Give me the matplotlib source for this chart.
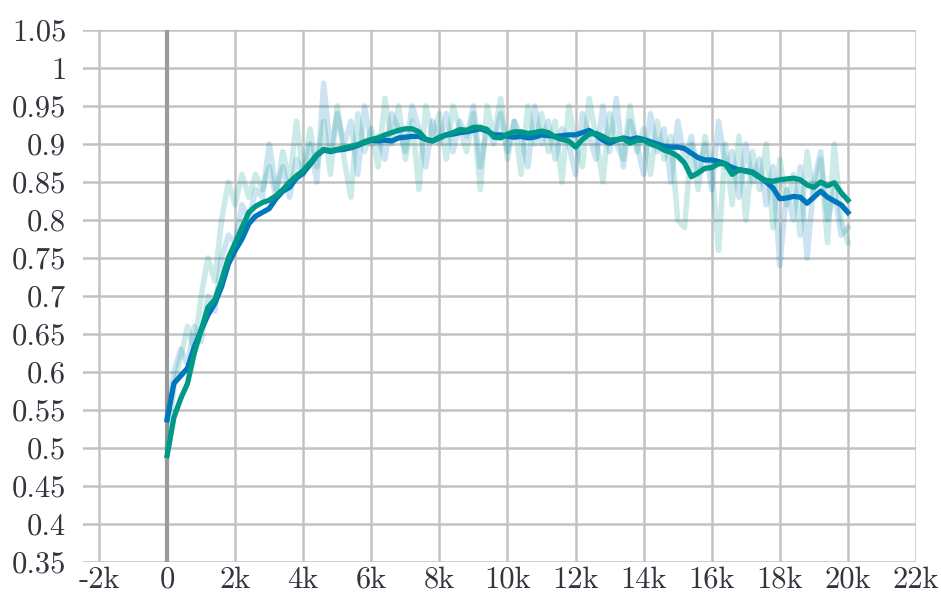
import matplotlib
matplotlib.use("Agg")
import matplotlib.pyplot as plt

BLUE = "#0077bb"
TEAL = "#009988"
GRID = "#c2c2c2"
ZERO = "#9a9a9a"
INK = "#34343f"

STEPS = list(range(0, 20001, 200))

# raw per-eval values
BLUE_RAW = [
    0.54, 0.60, 0.63, 0.61, 0.66, 0.64, 0.70, 0.68, 0.75, 0.78,
    0.77, 0.82, 0.80, 0.84, 0.83, 0.90, 0.84, 0.87, 0.83, 0.88,
    0.86, 0.90, 0.85, 0.98, 0.89, 0.94, 0.90, 0.93, 0.86, 0.95,
    0.90, 0.91, 0.88, 0.94, 0.92, 0.89, 0.95, 0.92, 0.87, 0.93,
    0.90, 0.94, 0.89, 0.93, 0.91, 0.95, 0.87, 0.92, 0.90, 0.94,
    0.89, 0.93, 0.91, 0.87, 0.95, 0.90, 0.93, 0.88, 0.92, 0.90,
    0.86, 0.94, 0.91, 0.88, 0.95, 0.89, 0.96, 0.87, 0.93, 0.90,
    0.86, 0.94, 0.89, 0.92, 0.85, 0.93, 0.88, 0.91, 0.86, 0.90,
    0.84, 0.93, 0.87, 0.89, 0.83, 0.90, 0.85, 0.88, 0.82, 0.87,
    0.74, 0.84, 0.80, 0.87, 0.75, 0.85, 0.89, 0.80, 0.84, 0.78,
    0.79,
]
TEAL_RAW = [
    0.50, 0.58, 0.62, 0.66, 0.63, 0.70, 0.75, 0.72, 0.80, 0.85,
    0.82, 0.86, 0.83, 0.86, 0.84, 0.87, 0.83, 0.89, 0.85, 0.93,
    0.86, 0.92, 0.87, 0.93, 0.86, 0.95, 0.88, 0.83, 0.94, 0.89,
    0.92, 0.87, 0.96, 0.90, 0.95, 0.88, 0.93, 0.84, 0.95, 0.91,
    0.94, 0.88, 0.95, 0.92, 0.89, 0.94, 0.84, 0.95, 0.91, 0.96,
    0.88, 0.93, 0.86, 0.95, 0.90, 0.94, 0.89, 0.93, 0.85, 0.95,
    0.90, 0.87, 0.96, 0.91, 0.85, 0.94, 0.90, 0.88, 0.95, 0.89,
    0.92, 0.86, 0.93, 0.88, 0.91, 0.80, 0.79, 0.90, 0.84, 0.91,
    0.87, 0.76, 0.90, 0.82, 0.91, 0.80, 0.89, 0.84, 0.90, 0.79,
    0.88, 0.82, 0.86, 0.78, 0.89, 0.83, 0.88, 0.77, 0.90, 0.80,
    0.77,
]

# smoothed curves
BLUE_SMOOTH = [
    0.537, 0.585, 0.595, 0.605, 0.633, 0.655, 0.675, 0.690, 0.712, 0.742,
    0.760, 0.775, 0.795, 0.805, 0.810, 0.815, 0.828, 0.838, 0.843, 0.855,
    0.862, 0.873, 0.885, 0.892, 0.890, 0.892, 0.893, 0.895, 0.898, 0.902,
    0.905, 0.904, 0.905, 0.904, 0.908, 0.909, 0.910, 0.910, 0.906, 0.904,
    0.908, 0.912, 0.913, 0.915, 0.916, 0.918, 0.920, 0.917, 0.912, 0.912,
    0.910, 0.909, 0.910, 0.908, 0.909, 0.912, 0.911, 0.910, 0.911, 0.912,
    0.912, 0.915, 0.918, 0.912, 0.905, 0.901, 0.905, 0.908, 0.906, 0.908,
    0.906, 0.903, 0.900, 0.897, 0.896, 0.896, 0.894, 0.888, 0.882, 0.879,
    0.879, 0.877, 0.874, 0.869, 0.866, 0.865, 0.863, 0.857, 0.850, 0.842,
    0.828, 0.829, 0.831, 0.830, 0.822, 0.830, 0.838, 0.830, 0.825, 0.820,
    0.810,
]
TEAL_SMOOTH = [
    0.490, 0.540, 0.565, 0.585, 0.625, 0.655, 0.685, 0.695, 0.720, 0.750,
    0.770, 0.790, 0.810, 0.818, 0.823, 0.826, 0.832, 0.840, 0.850, 0.858,
    0.865, 0.875, 0.886, 0.893, 0.891, 0.893, 0.895, 0.897, 0.899, 0.903,
    0.906, 0.908, 0.912, 0.915, 0.918, 0.920, 0.920, 0.916, 0.906, 0.904,
    0.909, 0.912, 0.915, 0.919, 0.918, 0.922, 0.922, 0.919, 0.909, 0.908,
    0.913, 0.916, 0.916, 0.914, 0.915, 0.917, 0.915, 0.909, 0.906, 0.904,
    0.896, 0.906, 0.913, 0.914, 0.910, 0.905, 0.906, 0.907, 0.901, 0.905,
    0.905, 0.900, 0.897, 0.892, 0.889, 0.884, 0.875, 0.857, 0.862, 0.868,
    0.869, 0.874, 0.874, 0.860, 0.866, 0.864, 0.862, 0.856, 0.852, 0.851,
    0.853, 0.854, 0.855, 0.853, 0.846, 0.843, 0.850, 0.845, 0.849, 0.836,
    0.826,
]

X_TICKS = list(range(-2000, 22001, 2000))
X_LABELS = ["-2k", "0", "2k", "4k", "6k", "8k", "10k", "12k", "14k",
            "16k", "18k", "20k", "22k"]
Y_TICKS = [0.35, 0.4, 0.45, 0.5, 0.55, 0.6, 0.65, 0.7, 0.75, 0.8, 0.85,
           0.9, 0.95, 1.0, 1.05]

plt.rcParams.update({
    "font.family": "serif",
    "font.serif": ["cmr10", "DejaVu Serif"],
    "axes.formatter.use_mathtext": True,
    "text.color": INK,
    "xtick.color": INK,
    "ytick.color": INK,
})

fig = plt.figure(figsize=(9.41, 5.93), dpi=100)
ax = fig.add_axes([83 / 941, 1 - 562 / 593, 833 / 941, 532 / 593])

# raw traces stay pale behind the smoothed curves
ax.plot(STEPS, BLUE_RAW, color=BLUE, alpha=0.2, linewidth=4, zorder=2)
ax.plot(STEPS, TEAL_RAW, color=TEAL, alpha=0.2, linewidth=4, zorder=2)
ax.plot(STEPS, BLUE_SMOOTH, color=BLUE, linewidth=3.8, zorder=3,
        solid_joinstyle="round")
ax.plot(STEPS, TEAL_SMOOTH, color=TEAL, linewidth=3.8, zorder=4,
        solid_joinstyle="round")

ax.axvline(0, color=ZERO, linewidth=3, zorder=1)

ax.set_xlim(-2470, 22000)
ax.set_ylim(0.35, 1.05)
ax.set_xticks(X_TICKS)
ax.set_xticklabels(X_LABELS)
ax.set_yticks(Y_TICKS)
ax.set_yticklabels([f"{v:g}" for v in Y_TICKS])

ax.grid(True, color=GRID, linewidth=1.8)
ax.set_axisbelow(True)
for side in ax.spines.values():
    side.set_visible(False)
ax.tick_params(length=0, labelsize=22)
ax.tick_params(axis="y", pad=12)
ax.tick_params(axis="x", pad=3)

fig.savefig("out.png", dpi=100, facecolor="white")
